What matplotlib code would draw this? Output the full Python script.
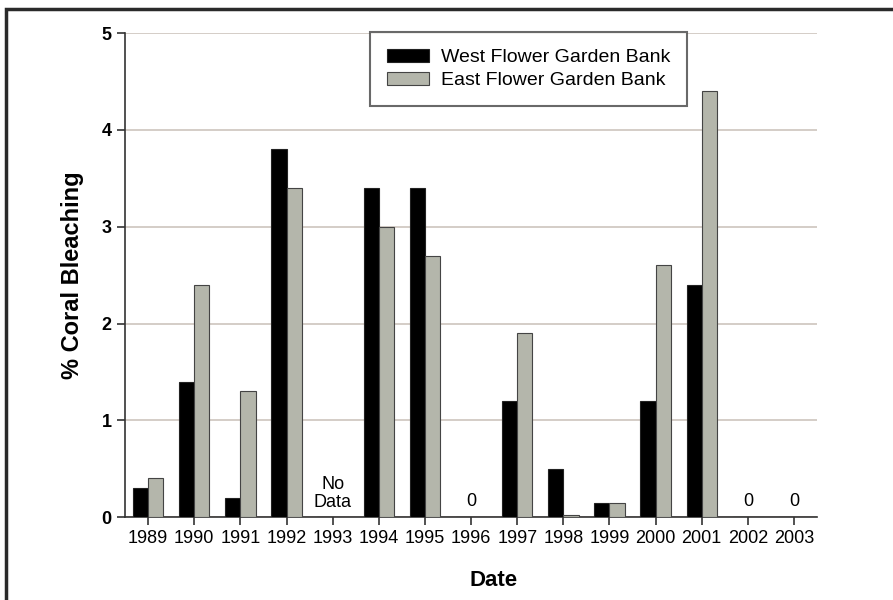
import numpy as np
import matplotlib
matplotlib.use('Agg')
import matplotlib.pyplot as plt
from matplotlib.patches import Rectangle

plt.rcParams['font.family'] = ['Liberation Sans', 'DejaVu Sans']

# data
years = ['1989', '1990', '1991', '1992', '1993', '1994', '1995', '1996',
         '1997', '1998', '1999', '2000', '2001', '2002', '2003']
west = [0.3, 1.4, 0.2, 3.8, 0, 3.4, 3.4, 0, 1.2, 0.5, 0.15, 1.2, 2.4, 0, 0]
east = [0.4, 2.4, 1.3, 3.4, 0, 3.0, 2.7, 0, 1.9, 0.02, 0.15, 2.6, 4.4, 0, 0]
zero_years = ['1996', '2002', '2003']
nodata_years = ['1993']

fig = plt.figure(figsize=(8.93, 6.0), dpi=100)
ax = fig.add_axes([0.14, 0.138, 0.775, 0.807])

x = np.arange(len(years))
w = 0.33
gray = '#b4b6ab'
ax.bar(x - w/2, west, w, color='black', edgecolor='#222222', linewidth=0.8,
       label='West Flower Garden Bank', zorder=3)
ax.bar(x + w/2, east, w, color=gray, edgecolor='#444444', linewidth=0.8,
       label='East Flower Garden Bank', zorder=3)

for yr in zero_years:
    ax.text(years.index(yr), 0.16, '0', ha='center', va='center', fontsize=13)
for yr in nodata_years:
    ax.text(years.index(yr), 0.245, 'No\nData', ha='center', va='center',
            fontsize=13, linespacing=1.05)

ax.set_xlim(-0.5, len(years) - 0.5)
ax.set_ylim(0, 5)
ax.set_xticks(x)
ax.set_xticklabels(years)
ax.set_yticks(range(6))
ax.yaxis.grid(True, color='#cdc5bd', linewidth=1.2, zorder=0)
ax.set_axisbelow(True)
for s in ['top', 'right']:
    ax.spines[s].set_visible(False)
for s in ['left', 'bottom']:
    ax.spines[s].set_color('#333333')
    ax.spines[s].set_linewidth(1.2)
ax.tick_params(axis='both', direction='out', length=6, width=1.2,
               color='#333333', labelsize=13)
for t in ax.get_yticklabels():
    t.set_fontweight('bold')

ax.set_xlabel('Date', fontsize=16, fontweight='bold')
ax.xaxis.set_label_coords(0.533, -0.11)
ax.set_ylabel('% Coral Bleaching', fontsize=17, fontweight='bold', labelpad=13)

leg = ax.legend(loc='upper left', bbox_to_anchor=(0.354, 1.002), fontsize=14,
                frameon=True, fancybox=False, edgecolor='#444444',
                borderpad=0.85, handlelength=2.2, handleheight=0.65,
                handletextpad=0.6, labelspacing=0.32, borderaxespad=0)
leg.get_frame().set_linewidth(1.5)

# outer frame (cropped on right and bottom)
fig.patches.append(Rectangle((6/893, -0.1), 1.2, 1.1 - 9/600, transform=fig.transFigure,
                             fill=False, edgecolor='#2a2a2a', linewidth=2.5))

fig.savefig('out.png', dpi=100)
